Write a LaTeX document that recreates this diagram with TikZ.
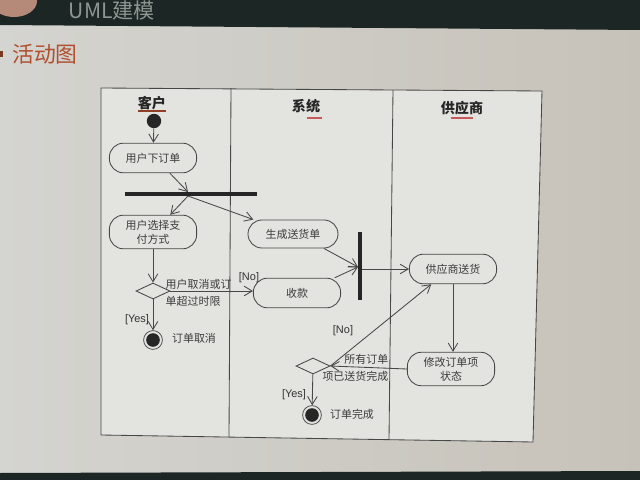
\documentclass[tikz,border=0pt]{standalone}
\usepackage{fontspec}
\setmainfont{Noto Sans CJK SC}
\setsansfont{Liberation Sans}
\usetikzlibrary{arrows.meta, shapes.geometric, calc}

\definecolor{bandc}{HTML}{1C2725}
\definecolor{bandtxt}{HTML}{8E9692}
\definecolor{slidel}{HTML}{D4D4D0}
\definecolor{slider}{HTML}{C7C2B9}
\definecolor{lanec}{HTML}{E3E3E0}
\definecolor{linec}{HTML}{474747}
\definecolor{txtc}{HTML}{3C3C3C}
\definecolor{titlec}{HTML}{B0502F}
\definecolor{skinc}{HTML}{B68A79}
\definecolor{underc}{HTML}{C8585A}

\begin{document}
\begin{tikzpicture}[
  x=0.025cm,
  y=-0.025cm,
  activ/.style={draw=linec, line width=0.6pt, fill=lanec, rounded corners=0.35cm,
    minimum width=2.18cm, minimum height=0.74cm, align=center, text=txtc,
    font=\fontsize{7.8}{10}\selectfont},
  forkbar/.style={fill=black!85, inner sep=0},
  decis/.style={diamond, draw=linec, line width=0.6pt, fill=lanec,
    minimum width=0.85cm, minimum height=0.4cm, inner sep=0},
  startpt/.style={circle, fill=black!85, minimum size=0.36cm, inner sep=0},
  endpt/.style={circle, draw=linec, line width=0.5pt, fill=lanec, minimum size=0.47cm, inner sep=0,
    path picture={\fill[black!85] (path picture bounding box.center) circle (0.17cm);}},
  flow/.style={draw=linec, line width=0.6pt, -{Straight Barb[length=2mm,width=2.4mm]}},
  guard/.style={font=\sffamily\fontsize{7.8}{9}\selectfont, text=black!80, inner sep=1pt},
  note/.style={font=\fontsize{7.8}{12.5}\selectfont, text=txtc, inner sep=1pt},
  lanehead/.style={font=\bfseries\fontsize{10}{12}\selectfont, text=black!85}
  ]
    % slide
    \useasboundingbox (0,0) rectangle (640,480);
    \clip (0,0) rectangle (640,480);
    \shade[left color=slidel, right color=slider] (0,0) rectangle (640,480);
    \fill[bandc] (0,0) -- (640,0) -- (640,30) -- (0,25) -- cycle;
    \fill[bandc] (0,473) -- (640,471) -- (640,480) -- (0,480) -- cycle;
    \fill[skinc] (14,1) ellipse [x radius=23, y radius=16];
    \node[text=bandtxt, font=\fontsize{15}{17}\selectfont, anchor=base west] (banner) at (64,18) {UML建模};

    % title
    \fill[titlec!70!black] (-2,51) rectangle (3,57);
    \node[text=titlec, font=\fontsize{15.5}{17}\selectfont] (title) at (45,54) {活动图};

    % frame and lanes
    \filldraw[fill=lanec, draw=linec, line width=0.6pt] (101,88) -- (542,91) -- (533,442) -- (101,435) -- cycle;
    \draw[linec, line width=0.6pt] (231,88) -- (229,437);
    \draw[linec, line width=0.6pt] (393,90) -- (389,440);

    \node[lanehead] (custhead) at (152,103) {客户};
    \node[lanehead] (syshead) at (306,106) {系统};
    \node[lanehead] (supphead) at (462,108) {供应商};
    \draw[titlec!80!black, line width=0.9pt] (138,111) -- (166,111);
    \draw[underc, line width=1pt] (307,118) -- (322,118);
    \draw[underc, line width=1pt] (451,118) -- (473,118);

    % nodes
    \node[startpt] (init) at (154,121) {};
    \node[activ] (order) at (153,158) {用户下订单};
    \node[forkbar, minimum width=3.3cm, minimum height=0.1cm] (fork) at (191,194) {};
    \node[activ] (pay) at (153,232) {用户选择支\\付方式};
    \node[activ, minimum width=2.25cm, minimum height=0.7cm] (ship) at (293,234) {生成送货单};
    \node[activ] (recv) at (297,293) {收款};
    \node[forkbar, minimum width=0.1cm, minimum height=1.68cm] (join) at (360,266) {};
    \node[activ] (supply) at (453,269) {供应商送货};
    \node[activ] (modify) at (451,369) {修改订单项\\状态};
    \node[decis] (cancelq) at (153,291) {};
    \node[decis] (doneq) at (313,366) {};
    \node[endpt] (cancelend) at (153,340) {};
    \node[endpt] (doneend) at (312,415) {};

    \coordinate (forkin) at (188,192);
    \coordinate (forkout) at (188,196);
    \coordinate (joinin) at (358,267);

    % flows
    \draw[flow] (init) -- (order);
    \draw[flow] (order.-42) -- (forkin);
    \draw[flow] (forkout) -- (pay.45);
    \draw[flow] (forkout) -- (ship.160);
    \draw[flow] (pay) -- (cancelq);
    \draw[flow] (cancelq.east) -- (cancelq.east -| recv.west);
    \draw[flow] (cancelq) -- (cancelend);
    \draw[flow] (ship.-25) -- (joinin);
    \draw[flow] (recv.22) -- (joinin);
    \draw[flow] (join.east |- supply.west) -- (supply.west);
    \draw[flow] (supply.south) -- (supply.south |- modify.north);
    \draw[flow] (modify.west) -- (doneq.east);
    \draw[flow] (doneq.east) -- (supply.-145);
    \draw[flow] (doneq) -- (doneend);

    % labels
    \node[note, align=left, anchor=west] (cancellbl) at (164,293) {用户取消或订\\单超过时限};
    \node[guard] (no1) at (249,278) {[No]};
    \node[guard] (yes1) at (137,320) {[Yes]};
    \node[note] (cancelname) at (194,338) {订单取消};
    \node[note, align=right, anchor=east] (donelbl) at (390,368) {所有订单\\项已送货完成};
    \node[guard] (no2) at (343,331) {[No]};
    \node[guard] (yes2) at (294,395) {[Yes]};
    \node[note] (donename) at (352,414) {订单完成};

\end{tikzpicture}
\end{document}
